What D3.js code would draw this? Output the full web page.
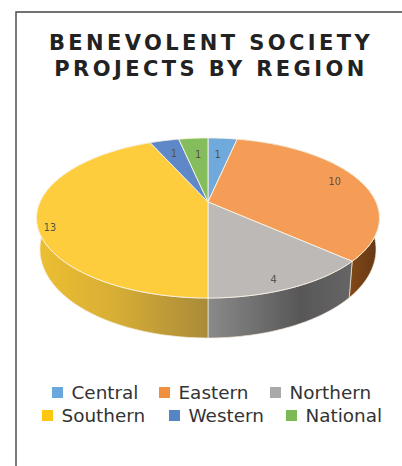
<!DOCTYPE html>
<html>
<head>
<meta charset="utf-8">
<script src="https://cdn.jsdelivr.net/npm/d3@7"></script>
<style>
  html, body { margin: 0; padding: 0; background: #fff; }
  svg { display: block; }
  text { font-family: "DejaVu Sans", Verdana, sans-serif; }
</style>
</head>
<body>
<div id="chart"></div>
<script>
const titleLines = ["BENEVOLENT SOCIETY", "PROJECTS BY REGION"];
const regions = ["Central", "Eastern", "Northern", "Southern", "Western", "National"];
const projects = [1, 10, 4, 13, 1, 1];
const legendRows = [["Central", "Eastern", "Northern"], ["Southern", "Western", "National"]];

const width = 402, height = 466;
const topColor = {Central: "#6fa9dc", Eastern: "#f59d56", Northern: "#bcb9b6", Southern: "#fdcd3c", Western: "#5f88c8", National: "#85bd5c"};
const keyColor = {Central: "#6aa7dc", Eastern: "#f0903f", Northern: "#a9a9a9", Southern: "#fdc70e", Western: "#5585c5", National: "#7bb956"};

const svg = d3.select("#chart").append("svg")
  .attr("width", width)
  .attr("height", height);

const defs = svg.append("defs");

function sideGradient(id, x1, x2, stops) {
  const g = defs.append("linearGradient")
    .attr("id", id)
    .attr("gradientUnits", "userSpaceOnUse")
    .attr("x1", x1).attr("x2", x2).attr("y1", 0).attr("y2", 0);
  stops.forEach(s => g.append("stop").attr("offset", s[0]).attr("stop-color", s[1]));
}
sideGradient("wall-south", 37, 208, [[0, "#ecbf30"], [0.45, "#d8ae36"], [1, "#a98a38"]]);
sideGradient("wall-north", 208, 350, [[0, "#8a8a8a"], [0.65, "#585757"], [1, "#666565"]]);
sideGradient("wall-east", 350, 380, [[0, "#80481a"], [1, "#633610"]]);
const wallFill = {Eastern: "url(#wall-east)", Northern: "url(#wall-north)", Southern: "url(#wall-south)"};

const soften = defs.append("filter").attr("id", "soften");
soften.append("feGaussianBlur").attr("stdDeviation", 0.45);

// frame, only top and left are drawn in the scan
svg.append("path")
  .attr("d", d3.line()([[width, 12], [16, 12], [16, height]]))
  .attr("fill", "none")
  .attr("stroke", "#444")
  .attr("stroke-width", 1.4);

svg.selectAll(".title")
  .data(titleLines)
  .join("text")
  .attr("class", "title")
  .attr("x", 211)
  .attr("y", (d, i) => 50 + i * 26)
  .attr("text-anchor", "middle")
  .attr("font-size", 21)
  .attr("font-weight", "bold")
  .attr("letter-spacing", 3.4)
  .attr("fill", "#222")
  .text(d => d);

// pie on a tilted disc: unit circle goes through a perspective projection
const cx = 208, cy = 202, rad = 168, persp = -0.2, tilt = 36.4;
const topPoint = (a, r = 1) => {
  const u = r * Math.sin(a), v = -r * Math.cos(a), w = 1 + persp * v;
  return [cx + rad * u / w, (cy + tilt * v) / w];
};
const lowPoint = a => {
  const p = topPoint(a), v = -Math.cos(a);
  return [cx + 0.98 * (p[0] - cx), p[1] + 29 + 11 * v];
};

const pieData = d3.pie().sort(null).value(d => d)(projects);
const line = d3.line();
const arcSteps = (s, e) => d3.range(0, 61).map(i => s + (e - s) * i / 60);

const pie = svg.append("g").attr("filter", "url(#soften)");

pie.selectAll(".wall")
  .data(pieData.filter(d => wallFill[regions[d.index]]))
  .join("path")
  .attr("class", "wall")
  .attr("d", d => {
    const steps = arcSteps(d.startAngle, d.endAngle);
    return line(steps.map(a => topPoint(a)).concat(steps.reverse().map(lowPoint))) + "Z";
  })
  .attr("fill", d => wallFill[regions[d.index]])
  .attr("stroke", "#f3ead8")
  .attr("stroke-width", 0.7);

pie.selectAll(".slice")
  .data(pieData)
  .join("path")
  .attr("class", "slice")
  .attr("d", d => line([[cx, cy]].concat(arcSteps(d.startAngle, d.endAngle).map(a => topPoint(a)))) + "Z")
  .attr("fill", d => topColor[regions[d.index]])
  .attr("stroke", "#fbf3e4")
  .attr("stroke-width", 0.9)
  .attr("stroke-linejoin", "round");

// how far out each data label sits on its slice, plus a small nudge
const labelRadius = [0.7, 0.8, 0.9, 0.93, 0.7, 0.7];
const labelNudge = [[-1, -1], [5, -2], [-8, 2], [1, 10], [-2, -3], [1, -1]];
pie.selectAll(".value")
  .data(pieData)
  .join("text")
  .attr("class", "value")
  .attr("transform", d => {
    const p = topPoint((d.startAngle + d.endAngle) / 2, labelRadius[d.index]);
    const n = labelNudge[d.index];
    return `translate(${p[0] + n[0]},${p[1] + n[1]})`;
  })
  .attr("dy", "0.35em")
  .attr("text-anchor", "middle")
  .attr("font-size", 10)
  .attr("fill", "#55534c")
  .text(d => d.data);

// legend
const legendY = d3.scalePoint().domain([0, 1]).range([392.5, 415.5]);
const legendX = [[52, 159, 270], [42, 169, 286]];
legendRows.forEach((row, r) => {
  const g = svg.append("g").attr("transform", `translate(0,${legendY(r)})`);
  row.forEach((name, i) => {
    g.append("rect")
      .attr("x", legendX[r][i])
      .attr("y", -5.5)
      .attr("width", 11)
      .attr("height", 11)
      .attr("fill", keyColor[name]);
    g.append("text")
      .attr("x", legendX[r][i] + 19.5)
      .attr("y", 6.5)
      .attr("font-size", 18.4)
      .attr("fill", "#333")
      .text(name);
  });
});
</script>
</body>
</html>
